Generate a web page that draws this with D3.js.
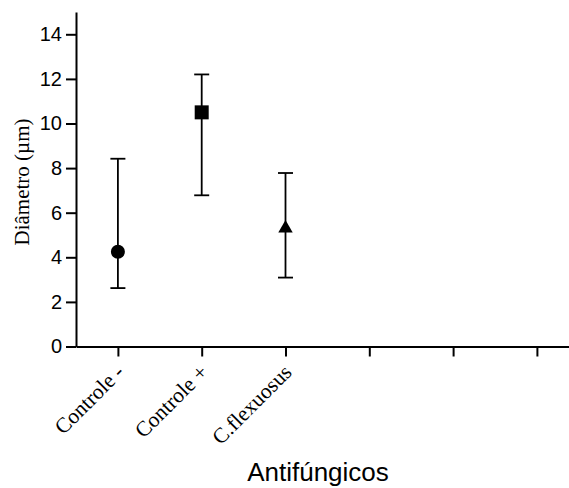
<!DOCTYPE html>
<html>
<head>
<meta charset="utf-8">
<script src="https://cdn.jsdelivr.net/npm/d3@7"></script>
<style>
  body { margin: 0; background: #fff; }
  svg { display: block; }
  .axis path, .axis line { stroke: #000; stroke-width: 2px; }
  .axis text { fill: #000; }
</style>
</head>
<body>
<div id="chart"></div>
<script>
// Chart data
var categories = ["Controle -", "Controle +", "C.flexuosus", "", "", ""];
var means = [4.25, 10.5, 5.3];
var upper = [8.42, 12.2, 7.78];
var lower = [2.62, 6.78, 3.09];
var shapes = ["circle", "square", "triangle"];
var yTicks = [0, 2, 4, 6, 8, 10, 12, 14];

var width = 569;
var height = 488;

var svg = d3.select("#chart")
  .append("svg")
  .attr("width", width)
  .attr("height", height);

// scales
var x_scale = d3.scaleLinear()
  .domain([-0.5, 5.5])
  .range([76, 578.8]);

var y_scale = d3.scaleLinear()
  .domain([0, 15])
  .range([346.5, 12]);

// y axis
svg.append("g")
  .attr("class", "axis")
  .attr("transform", "translate(76,0)")
  .call(d3.axisLeft(y_scale)
    .tickValues(yTicks)
    .tickSize(10)
    .tickSizeOuter(0)
    .tickPadding(4))
  .selectAll("text")
  .style("font-family", "Liberation Sans, Arial, sans-serif")
  .style("font-size", "20px");

// x axis
var xAxis = svg.append("g")
  .attr("class", "axis")
  .attr("transform", "translate(0,346.5)")
  .call(d3.axisBottom(x_scale)
    .tickValues(d3.range(categories.length))
    .tickFormat(function(d) { return categories[d]; })
    .tickSize(10)
    .tickSizeOuter(0));

xAxis.selectAll("text")
  .style("font-family", "Liberation Serif, Times New Roman, serif")
  .style("font-size", "21.5px")
  .style("text-anchor", "end")
  .attr("dy", null)
  .attr("y", 0)
  .attr("transform", "translate(7,27) rotate(-45)");

// axis titles
svg.append("text")
  .attr("transform", "translate(22,182) rotate(-90)")
  .attr("text-anchor", "middle")
  .attr("dominant-baseline", "central")
  .style("font-family", "Liberation Serif, Times New Roman, serif")
  .style("font-size", "21px")
  .text("Diâmetro (µm)");

svg.append("text")
  .attr("x", 318)
  .attr("y", 481)
  .attr("text-anchor", "middle")
  .style("font-family", "Liberation Sans, Arial, sans-serif")
  .style("font-size", "26px")
  .text("Antifúngicos");

// error bars
var idx = d3.range(means.length);
var bars = svg.append("g")
  .attr("stroke", "#000")
  .attr("stroke-width", 1.8);

bars.selectAll(".vline")
  .data(idx)
  .enter()
  .append("line")
  .attr("x1", function(i) { return x_scale(i); })
  .attr("x2", function(i) { return x_scale(i); })
  .attr("y1", function(i) { return y_scale(lower[i]); })
  .attr("y2", function(i) { return y_scale(upper[i]); });

bars.selectAll(".capTop")
  .data(idx)
  .enter()
  .append("line")
  .attr("x1", function(i) { return x_scale(i) - 7.5; })
  .attr("x2", function(i) { return x_scale(i) + 7.5; })
  .attr("y1", function(i) { return y_scale(upper[i]); })
  .attr("y2", function(i) { return y_scale(upper[i]); });

bars.selectAll(".capBottom")
  .data(idx)
  .enter()
  .append("line")
  .attr("x1", function(i) { return x_scale(i) - 7.5; })
  .attr("x2", function(i) { return x_scale(i) + 7.5; })
  .attr("y1", function(i) { return y_scale(lower[i]); })
  .attr("y2", function(i) { return y_scale(lower[i]); });

// markers
var symbolType = {
  circle: d3.symbolCircle,
  square: d3.symbolSquare,
  triangle: d3.symbolTriangle
};
var symbolSize = { circle: 154, square: 196, triangle: 90 };

svg.selectAll(".marker")
  .data(idx)
  .enter()
  .append("path")
  .attr("class", "marker")
  .attr("fill", "#000")
  .attr("transform", function(i) {
    return "translate(" + x_scale(i) + "," + y_scale(means[i]) + ")";
  })
  .attr("d", function(i) {
    return d3.symbol().type(symbolType[shapes[i]]).size(symbolSize[shapes[i]])();
  });
</script>
</body>
</html>
